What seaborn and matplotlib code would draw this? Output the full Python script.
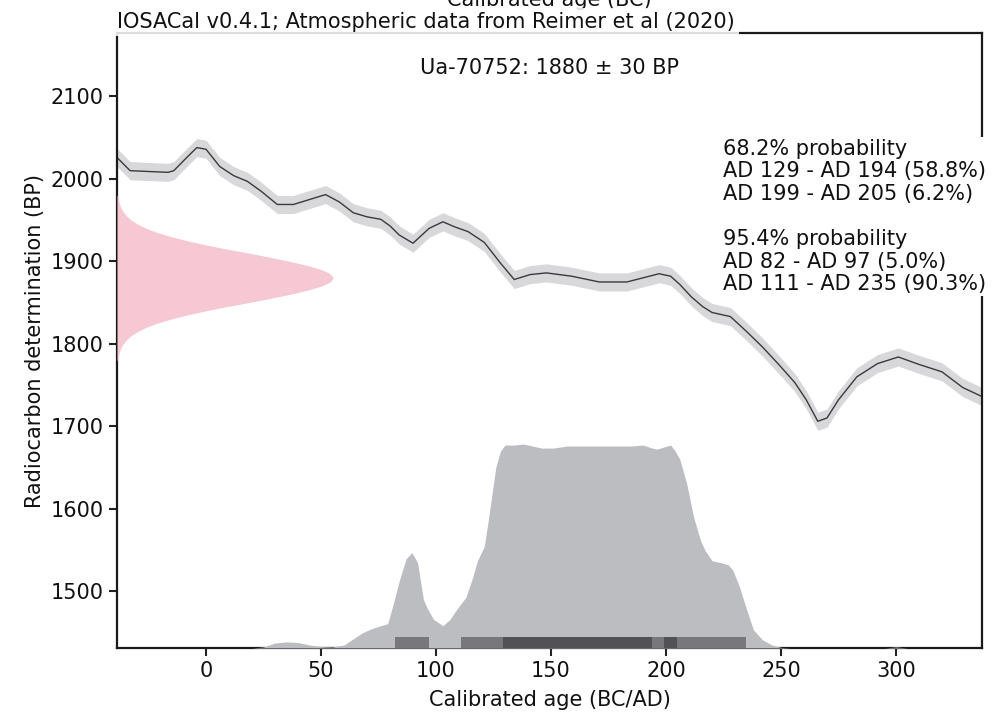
import matplotlib
matplotlib.use('Agg')
import numpy as np
import pandas as pd
import seaborn as sns
import matplotlib.pyplot as plt

# calibration curve (calendar year AD -> radiocarbon age BP)
curve_year = [-40, -38.7, -33, -25, -16.5, -14, -8, -4, 0, 6, 12, 18, 24, 31, 38, 45,
              52, 58, 64, 70, 76, 80, 84, 90, 97, 103, 108, 114, 121, 128, 134, 141,
              148, 159, 171, 183, 190, 197, 202, 206, 211, 216, 220, 228, 235, 242,
              249, 256, 261, 266, 270, 275, 283, 292, 301, 310, 320, 329, 337.4, 340]
curve_bp = [2030, 2026, 2010, 2009, 2008, 2010, 2027, 2038, 2036, 2015, 2004, 1997, 1985,
            1969, 1969, 1975, 1981, 1972, 1959, 1954, 1951, 1943, 1932, 1922, 1940, 1948,
            1942, 1936, 1923, 1898, 1878, 1884, 1886, 1882, 1875, 1875, 1880, 1885, 1882,
            1872, 1857, 1845, 1838, 1833, 1815, 1796, 1775, 1753, 1732, 1706, 1710, 1732,
            1760, 1776, 1784, 1775, 1766, 1747, 1736, 1735]
curve_err = 11

# calibrated age probability (relative to the plateau)
cal_year = [20, 25, 30, 35, 40, 45, 50, 55, 60, 64, 68, 72, 76, 79, 81, 84, 87, 89.5,
            92, 94.5, 96, 99, 103, 106, 109, 113, 116, 118, 121, 123, 124, 126, 128,
            130, 134, 138, 142, 146, 151, 157, 165, 177, 185, 190, 194, 196, 199, 202,
            204, 206, 209, 212, 215, 217, 220, 224, 227, 229, 232, 235, 238, 242, 246,
            250, 254, 295, 300, 305]
cal_prob = [0, 0.005, 0.025, 0.03, 0.027, 0.015, 0.007, 0.005, 0.015, 0.045, 0.075,
            0.095, 0.11, 0.12, 0.2, 0.33, 0.44, 0.47, 0.42, 0.24, 0.2, 0.14, 0.11, 0.14,
            0.19, 0.25, 0.35, 0.43, 0.5, 0.65, 0.73, 0.89, 0.97, 1.0, 1.0, 1.005, 0.995,
            0.985, 0.985, 0.995, 0.995, 0.995, 0.995, 1.0, 0.985, 0.98, 0.99, 1.0, 0.97,
            0.93, 0.81, 0.645, 0.53, 0.48, 0.43, 0.42, 0.41, 0.385, 0.30, 0.19, 0.09,
            0.04, 0.015, 0.003, 0, 0, 0.005, 0]

# radiocarbon determination 1880 +/- 30 BP
bp_values = [1780, 1785, 1790, 1795, 1800, 1805, 1810, 1815, 1820, 1825, 1830, 1835,
             1840, 1845, 1850, 1855, 1860, 1865, 1870, 1875, 1880, 1885, 1890, 1895,
             1900, 1905, 1910, 1915, 1920, 1925, 1930, 1935, 1940, 1945, 1950, 1955,
             1960, 1965, 1970, 1975, 1980]
bp_prob = [0.004, 0.007, 0.011, 0.018, 0.029, 0.044, 0.066, 0.096, 0.135, 0.186, 0.25,
           0.325, 0.41, 0.506, 0.61, 0.707, 0.80, 0.88, 0.946, 0.986, 1.0,
           0.986, 0.946, 0.88, 0.80, 0.707, 0.61, 0.506, 0.41, 0.325, 0.25, 0.186,
           0.135, 0.096, 0.066, 0.044, 0.029, 0.018, 0.011, 0.007, 0.004]

# highest density ranges
range95_start = [82, 111]
range95_end = [97, 235]
range68_start = [129, 199]
range68_end = [194, 205]

title = 'IOSACal v0.4.1; Atmospheric data from Reimer et al (2020)'
label = 'Ua-70752: 1880 ± 30 BP'
ranges_text = ('68.2% probability\nAD 129 - AD 194 (58.8%)\nAD 199 - AD 205 (6.2%)\n\n'
               '95.4% probability\nAD 82 - AD 97 (5.0%)\nAD 111 - AD 235 (90.3%)')

sns.set_style('ticks')
plt.rcParams['font.family'] = ['DejaVu Sans']
plt.rcParams['font.size'] = 15
plt.rcParams['text.color'] = '#111111'
plt.rcParams['axes.labelcolor'] = '#111111'
plt.rcParams['xtick.color'] = '#111111'
plt.rcParams['ytick.color'] = '#111111'

fig = plt.figure(figsize=(10.05, 7.17), dpi=100)
ax = fig.add_axes([117 / 1005, 1 - 648 / 717, 865 / 1005, 615 / 717])

curve = pd.DataFrame({'year': curve_year, 'bp': curve_bp})
ax.fill_between(curve['year'], curve['bp'] - curve_err, curve['bp'] + curve_err,
                color='#d8d8db', lw=0)
sns.lineplot(data=curve, x='year', y='bp', ax=ax, color='#3a3a3a', lw=1)

ax.set_xlim(-38.7, 337.4)
ax.set_ylim(1431, 2177)
ax.set_xticks([0, 50, 100, 150, 200, 250, 300])
ax.set_yticks([1500, 1600, 1700, 1800, 1900, 2000, 2100])
ax.set_xlabel('Calibrated age (BC/AD)', fontsize=15, labelpad=6)
ax.set_ylabel('Radiocarbon determination (BP)', fontsize=15)
ax.tick_params(labelsize=15, length=6, width=1.5, color='#222222')
for s in ax.spines.values():
    s.set_linewidth(1.6)
    s.set_color('#1a1a1a')

# calibrated distribution + ranges
ax_d = ax.twinx()
ax_d.fill_between(cal_year, 0, cal_prob, color='#bcbdc1', lw=0)
for a, b in zip(range95_start, range95_end):
    ax_d.bar(a, 0.055, width=b - a, align='edge', color='#78787c', lw=0)
for a, b in zip(range68_start, range68_end):
    ax_d.bar(a, 0.055, width=b - a, align='edge', color='#525256', lw=0)
ax_d.set_ylim(0, 1 / 0.33)
ax_d.set_yticks([])
for s in ax_d.spines.values():
    s.set_visible(False)

# radiocarbon determination
ax_r = ax.twiny()
ax_r.fill_betweenx(bp_values, 0, bp_prob, color='#f5c8d3', lw=0)
ax_r.set_xlim(0, 4)
ax_r.set_xticks([])
for s in ax_r.spines.values():
    s.set_visible(False)

ax.text(0.5, 0.959, label, transform=ax.transAxes, ha='center', va='top', fontsize=15)
ax_r.text(0.7006, 0.828, ranges_text, transform=ax.transAxes, ha='left', va='top',
          fontsize=15, linespacing=1.16,
          bbox=dict(boxstyle='square,pad=0.1', fc='white', ec='none'))

fig.text(117 / 1005, 1 - 28 / 717, title, ha='left', va='baseline', fontsize=15,
         bbox=dict(boxstyle='square,pad=0.2', fc='white', ec='none', alpha=0.85), zorder=5)
fig.text(549 / 1005, 1 - 6 / 717, 'Calibrated age (BC)', ha='center', va='baseline',
         fontsize=15)

fig.savefig('out.png', dpi=100)
